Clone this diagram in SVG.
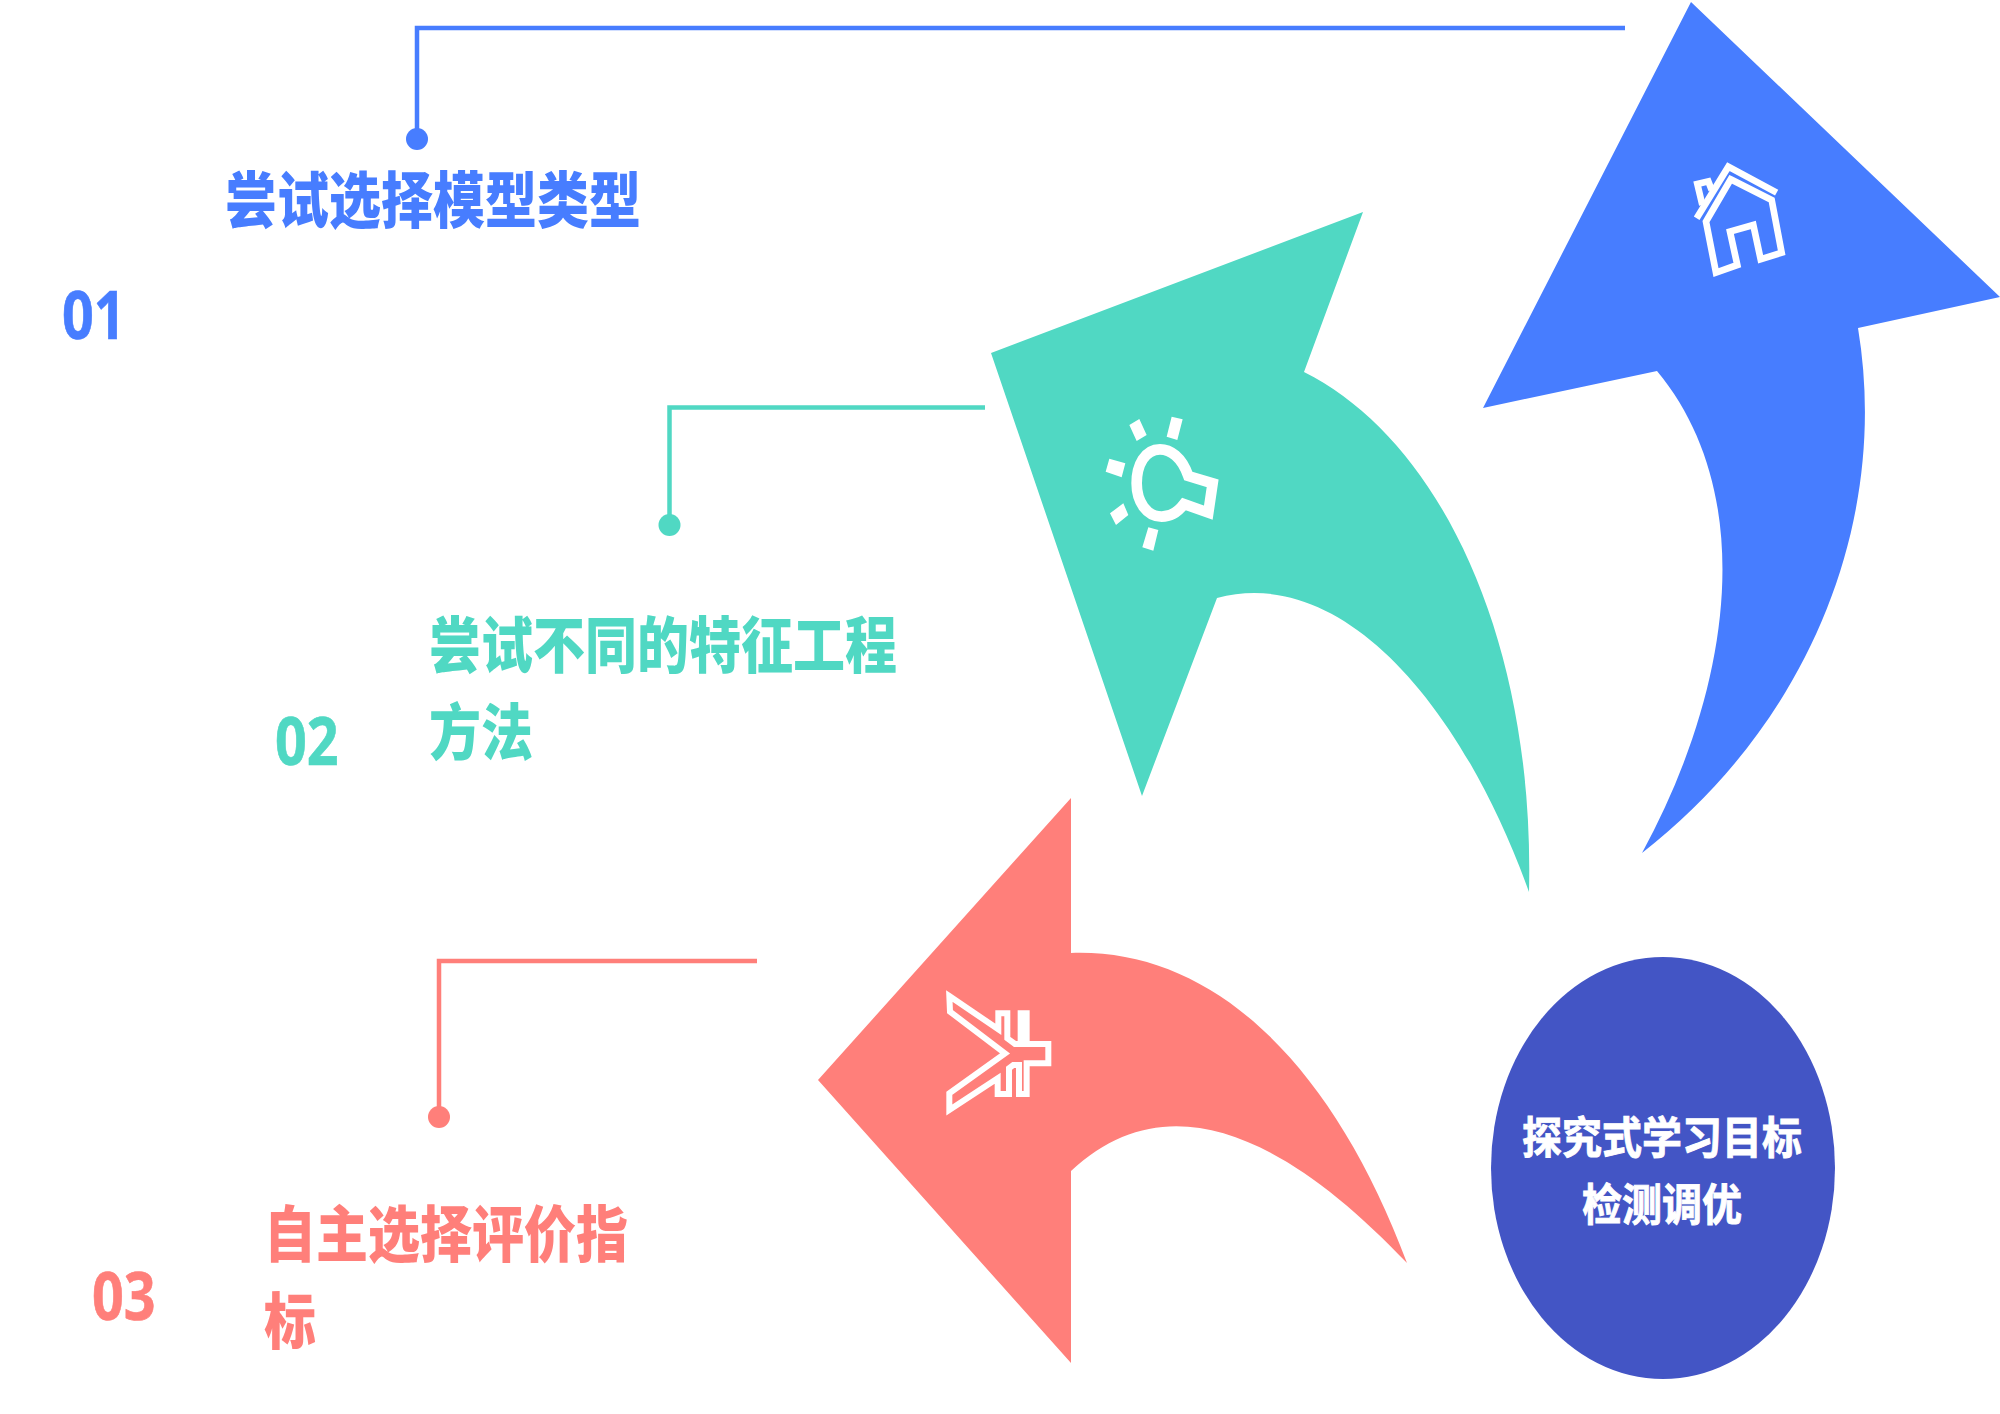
<svg xmlns="http://www.w3.org/2000/svg" width="2000" height="1414" viewBox="0 0 2000 1414">
<style>
text{font-family:"Noto Sans CJK SC","Noto Sans",sans-serif;font-weight:900}
.t{font-size:52px}
.n{font-size:64px;stroke-width:.6;font-weight:700;font-family:"Noto Sans","Noto Sans CJK SC",sans-serif}
.c{font-size:40px;fill:#fff;text-anchor:middle;font-weight:700;stroke:#fff;stroke-width:.8}
.b{fill:#477DFF}.g{fill:#50D8C3}.r{fill:#FF7F7A}
.n.b{stroke:#477DFF}.n.g{stroke:#50D8C3}.n.r{stroke:#FF7F7A}
.l{fill:none;stroke-width:4.5}
.i{fill:none;stroke:#fff;stroke-width:20}
.y{fill:none;stroke:#fff;stroke-width:18}
.w{fill:#fff}
</style>
<rect width="2000" height="1414" fill="#fff"/>
<g id="connectors">
<path class="l" stroke="#477DFF" d="M1625,28H417V139"/>
<circle class="b" cx="417" cy="139" r="11"/>
<path class="l" stroke="#50D8C3" d="M985,407.500H669.500V525"/>
<circle class="g" cx="669.500" cy="525" r="11"/>
<path class="l" stroke="#FF7F7A" d="M757,961H439V1117"/>
<circle class="r" cx="439" cy="1117" r="11"/>
</g>
<g id="arrow-blue">
<path class="b" d="M1691,2L2000,297L1858,328C1890,520 1810,722 1642,853C1736,680 1756,490 1657,371L1483,408Z"/>
<g transform="translate(1640 140) scale(.3333)">
<path class="i" d="M272,118L395,180L425,338L362,358L340,255L270,275L292,375L228,398L198,245Z"/>
<path class="i" d="M170,235L265,80L410,158"/>
<path class="i" d="M187,195L172,132L205,124L215,150"/>
</g>
</g>
<g id="arrow-green">
<path class="g" d="M1363,212L1304,372C1440,440 1535,640 1529,892C1460,700 1340,565 1217,598L1142,796L991,353Z"/>
<g transform="translate(1080 400) scale(.3333)">
<path fill="none" stroke="#fff" stroke-width="32" d="M325,228C305,170 270,148 240,148C195,148 170,195 170,250C170,305 200,350 245,350C275,350 295,335 312,312L385,338L398,250Z"/>
<path class="w" d="M148,75L178,57L200,105L170,123ZM275,50L308,58L292,120L260,110ZM88,176L136,190L125,232L77,215ZM90,340L130,310L145,345L108,375ZM205,382L235,390L220,452L187,442Z"/>
</g>
</g>
<g id="arrow-red">
<path class="r" d="M1071,798V953C1211,948 1331,1060 1407,1263C1290,1140 1170,1078 1071,1171V1363L818,1080Z"/>
<g transform="translate(930 970) scale(.3333)">
<path class="y" d="M58,78L205,178V130H232V205L255,222H272V130H290V222H355V280H290V372H267V285H250L237,295V372H203V325L58,420V370L225,250L60,125Z"/>
</g>
</g>
<g id="goal">
<ellipse cx="1663" cy="1168" rx="172" ry="211" fill="#4355C5"/>
<text class="c" transform="translate(1662 1154) scale(1 1.12)">探究式学习目标</text>
<text class="c" transform="translate(1662 1221) scale(1 1.12)">检测调优</text>
</g>
<g id="item-1">
<text class="t b" transform="translate(225 223) scale(1 1.18)">尝试选择模型类型</text>
<text class="n b" transform="translate(62 339) scale(.87 1.05)">01</text>
</g>
<g id="item-2">
<text class="t g" transform="translate(429 668) scale(1 1.18)">尝试不同的特征工程</text>
<text class="t g" transform="translate(429 755) scale(1 1.18)">方法</text>
<text class="n g" transform="translate(275 765) scale(.87 1.05)">02</text>
</g>
<g id="item-3">
<text class="t r" transform="translate(264 1257) scale(1 1.18)">自主选择评价指</text>
<text class="t r" transform="translate(264 1344) scale(1 1.18)">标</text>
<text class="n r" transform="translate(92 1320) scale(.87 1.05)">03</text>
</g>
</svg>
